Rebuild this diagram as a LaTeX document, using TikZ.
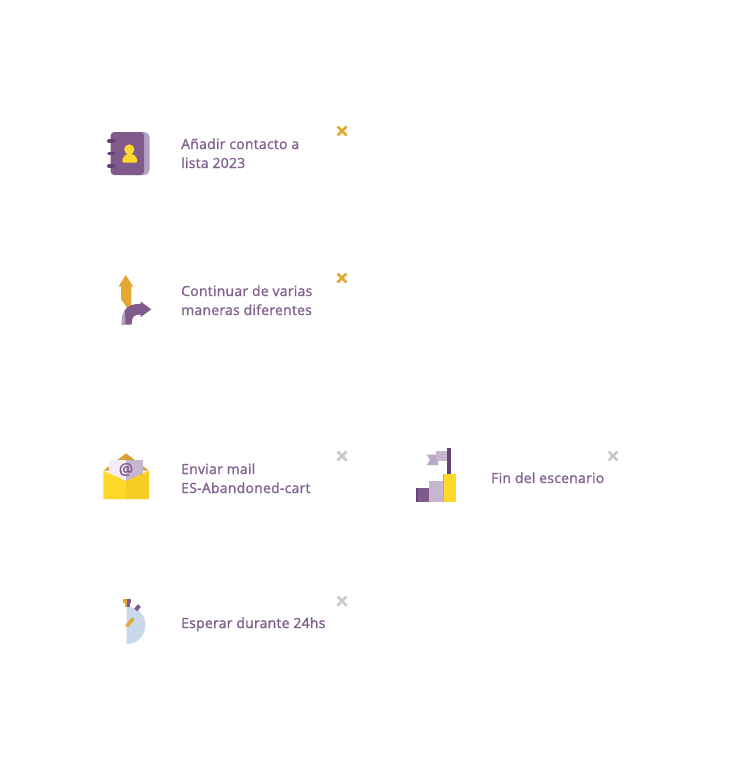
\documentclass[tikz,border=0pt]{standalone}
\usepackage{fontspec}
\setmainfont{Open Sans}[FakeBold=1.3,LetterSpace=1.7]
\newfontfamily\boldlab{Open Sans}[FakeBold=1.8,LetterSpace=1.7]
\definecolor{plum}{HTML}{7F5A8A}
\definecolor{plumtext}{HTML}{82608E}
\definecolor{plumdark}{HTML}{66427A}
\definecolor{lav}{HTML}{B6A0C2}
\definecolor{lavl}{HTML}{C6B6D0}
\definecolor{sun}{HTML}{FFD829}
\definecolor{sunb}{HTML}{F5CD25}
\definecolor{amber}{HTML}{E3A832}
\definecolor{amberd}{HTML}{DBA032}
\definecolor{paper}{HTML}{F1EEF5}
\definecolor{ice}{HTML}{C9D9EC}
\definecolor{greyx}{HTML}{C9C9C9}
\tikzset{
  lab/.style={anchor=base west,inner sep=0pt,text=plumtext,font=\fontsize{14}{19}\selectfont},
  closex/.style={line width=2.6pt,draw=#1},
  closex/.default=amber
}
\newcommand{\closemark}[3]{\draw[closex=#3] (#1-4.5,#2-4.5) -- (#1+4.5,#2+4.5) (#1-4.5,#2+4.5) -- (#1+4.5,#2-4.5);}
\begin{document}
\begin{tikzpicture}[x=1pt,y=-1pt]
\useasboundingbox (0,0) rectangle (750,763);
% book
\fill[lav,rounded corners=5pt] (125,132) rectangle (149.5,175);
\fill[plum,rounded corners=3.5pt] (110.7,132) rectangle (144,175);
\foreach \yy in {141,153.5,166}{\draw[plumdark,line width=3.6pt,line cap=round] (108.8,\yy) -- (114,\yy);}
\fill[sun] (129.3,149.5) circle (5.1);
\fill[sun,rounded corners=1.5pt] (122.3,162.7) -- (137.3,162.7) -- (137.3,160) .. controls (136,155.5) and (133,154) .. (129.8,154) .. controls (126.5,154) and (123.5,155.5) .. (122.3,160) -- cycle;
\node[lab] (t1a) at (181,149) {Añadir contacto a};
\node[lab] (t1b) at (181,168) {lista 2023};
\closemark{342}{131}{amber}
% fork arrows
\fill[ice] (126,303) -- (130,308) -- (130,312) -- (126,310) -- cycle;
\fill[amber] (125.7,275) -- (133.3,286.7) -- (131.3,286.7) -- (131.3,306) -- (128,309) -- (121,299) -- (121,286.7) -- (118.3,286.7) -- cycle;
\fill[plum] (121.7,324.5) .. controls (121.7,310) and (127,303.8) .. (140.7,303.8) -- (140.7,301.5) -- (151.2,309.3) -- (140.7,317) -- (140.7,314.5) .. controls (134,314.5) and (131.7,316.5) .. (131.7,324.5) -- cycle;
\fill[lav] (121.7,324.5) .. controls (121.7,318) and (123,314) .. (125,310.5) -- (125.5,324.5) -- cycle;
\node[lab] (t2a) at (181,296) {Continuar de varias};
\node[lab] (t2b) at (181,315) {maneras diferentes};
\closemark{342}{278}{amber}
% envelope
\fill[amberd] (103.3,470.7) -- (126,453.3) -- (149,470.7) -- cycle;
\fill[paper] (109.3,459.5) rectangle (126,482);
\fill[lavl] (126,459.5) rectangle (142.7,482);
\fill[sun] (103.3,470.7) -- (126,481) -- (126,499) -- (103.3,499) -- cycle;
\fill[sunb] (149,470.7) -- (126,481) -- (126,499) -- (149,499) -- cycle;
\node[inner sep=0pt,text=plum,font=\fontsize{16}{16}\selectfont] (at1) at (126,469.5) {@};
\node[lab] (t3a) at (181,474) {Enviar mail};
\node[lab] (t3b) at (181,493) {ES-Abandoned-cart};
\closemark{342}{456}{greyx}
% flag and steps
\fill[plum] (416,488.3) rectangle (429.3,501.7);
\fill[plumdark] (416,488.3) rectangle (417.5,501.7);
\fill[lavl] (429.3,481.3) rectangle (442.7,501.7);
\fill[sun] (442.7,474.3) rectangle (456,501.7);
\fill[amber] (442.7,474.3) rectangle (444,501.7);
\fill[plumdark] (447.4,448) rectangle (451,474.3);
\fill[lavl!85!plum] (426.7,454.7) -- (438,454.7) -- (438,465) -- (426.7,465) -- (430,459.8) -- cycle;
\fill[lavl] (436,451.3) rectangle (447.4,460.8);
\node[lab] (t4) at (491,483) {Fin del escenario};
\closemark{613}{456}{greyx}
% stopwatch
\fill[ice] (126.7,606.5) arc (-90:90:18.8) -- cycle;
\fill[amber] (122.5,599) rectangle (127,603);
\fill[amber] (125,603) rectangle (127,607);
\fill[plum] (127,599) rectangle (131,603);
\fill[plum] (127,603) rectangle (130,607);
\draw[plum,line width=4pt] (135.8,610) -- (139.3,605.5);
\draw[amber,line width=3.4pt,line cap=round] (127,625.8) -- (132.8,619);
\node[lab,font=\boldlab\fontsize{14}{19}\selectfont] (t5) at (181,628) {Esperar durante 24hs};
\closemark{342}{601}{greyx}
\end{tikzpicture}
\end{document}
